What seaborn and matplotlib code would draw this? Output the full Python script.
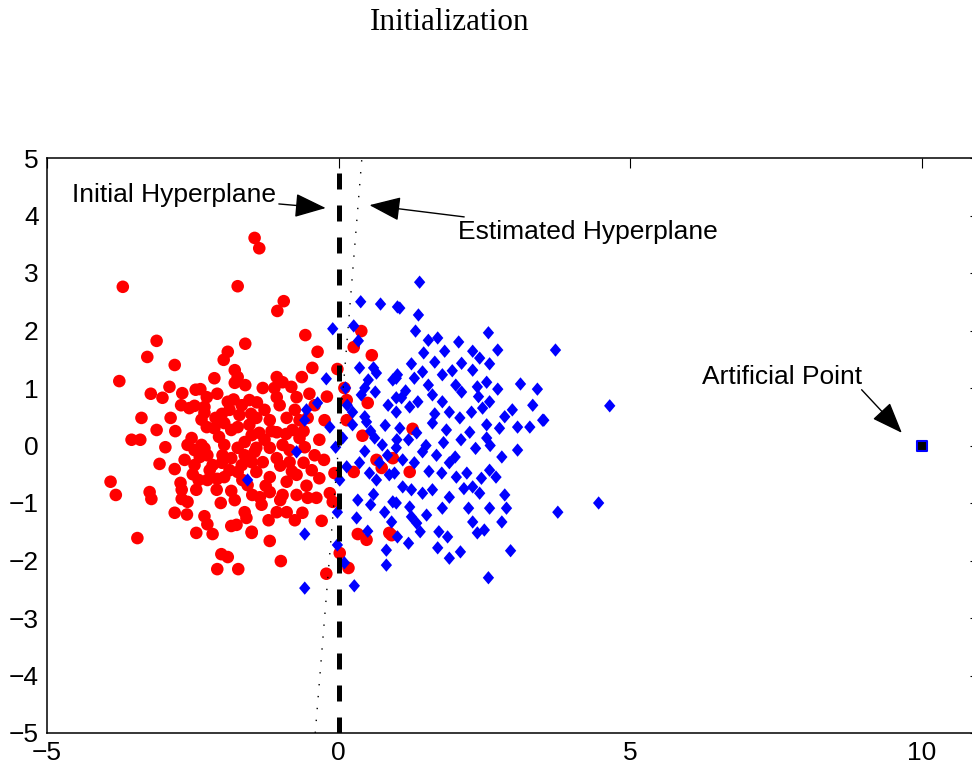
import numpy as np
import pandas as pd
import matplotlib
matplotlib.use("Agg")
import matplotlib.pyplot as plt
import seaborn as sns

# ---------------- data ----------------
red_x = [-3.70, -1.44, -1.36, -1.73, -0.94, -1.05, -3.12, -3.28, -2.81, -3.76,
         -0.57, 0.39, 0.57, 0.26, -1.60, -1.90, -1.97, -1.78, -1.73, -1.78,
         -2.13, -0.36, -0.45, -0.63, -0.02, -1.06, -0.96, -0.81, -1.10, -1.06,
         -0.72, 0.10, 0.14, 0.50, -3.22, -2.90, -3.02, -2.68, -2.45, -2.37,
         -2.26, -2.08, -1.90, -1.66, -1.53, -2.56, -2.47, -2.30, -2.30, -3.38,
         -2.88, -2.11, -3.12, -3.55, -3.40, -2.97, -3.07, -2.81, -3.91, -3.82,
         -3.24, -3.21, -2.71, -2.69, -2.69, -2.81, -2.44, -2.40, -2.25, -2.08,
         -1.96, -2.09, -1.84, -2.02, -2.30, -2.25, -2.44, -2.16, -1.84, -1.75,
         -1.61, -1.58, -1.49, -3.45, -2.01, -1.90, -2.08, -1.72, -2.52, -2.59,
         -2.47, -2.35, -2.26, -2.13, -1.96, -1.84, -1.73, -1.96, -1.99, -1.84,
         -1.73, -1.61, -1.49, -1.44, -1.66, -1.73, -2.16, -2.38, -2.25, -1.49,
         -1.41, -1.18, -0.89, -0.67, -0.53, -1.36, -1.06, -0.79, -0.67, -0.58,
         -1.41, -1.18, -0.96, -1.30, -1.06, -0.84, -1.41, -1.18, -0.89, -0.46,
         -0.33, -0.72, -0.07, -1.48, -1.18, -0.96, -0.72, -0.53, -0.38, -0.15,
         -0.10, -1.06, -0.89, -0.62, -0.29, -1.49, -1.18, -0.99, -0.21, 0.02,
         0.17, 0.33, 0.48, 0.87, 0.74, 0.26, 0.41, 0.65, 0.93, 0.14,
         1.22, 0.91, 1.27, -1.27, -1.01, -0.75, -0.41, -0.24, -1.70, -1.87,
         -1.53, -1.27, -1.61, -1.87, -0.84, -0.41, -0.33, -2.21, -2.47, -2.64,
         -1.56, -1.32, -1.78, -2.59,
         -2.00, -1.80, -1.40, -1.15, -0.90, -0.60, -1.00, -0.60, -1.25, -0.80,
         -2.30, -2.05, -1.65, -1.35, -2.50, -2.80, -2.70, -1.60, -1.30, -0.50,
         -0.20, -0.25, -0.55, -1.00, -2.00, -1.50, -2.35, -1.20, -0.75, -2.60]
red_y = [2.76, 3.61, 3.43, 2.77, 2.51, 2.34, 1.82, 1.54, 1.40, 1.12,
         1.92, 1.99, 1.57, 1.71, 1.77, 1.63, 1.49, 1.31, 1.19, 1.09,
         1.17, 1.63, 1.35, 1.19, 1.33, 1.19, 1.10, 1.02, 1.00, 0.84,
         0.84, 1.00, 0.79, 0.74, 0.90, 1.02, 0.83, 0.91, 0.97, 0.98,
         0.84, 0.90, 0.76, 0.70, 0.79, 0.65, 0.69, 0.67, 0.57, 0.48,
         0.48, 0.48, 0.27, 0.10, 0.10, -0.03, -0.32, -0.41, -0.63, -0.86,
         -0.81, -0.93, -0.65, -0.77, -0.93, -1.17, -0.77, -0.60, -0.60, -0.58,
         -0.55, -0.77, -0.79, -1.00, -1.23, -1.37, -1.52, -1.54, -1.40, -1.38,
         -1.16, -1.26, -1.50, -1.61, -1.89, -1.94, -2.15, -2.15, 0.13, 0.01,
         -0.08, 0.01, 0.32, 0.30, 0.39, 0.27, 0.32, 0.01, -0.17, -0.22,
         -0.04, 0.06, 0.18, -0.11, -0.34, -0.46, -0.34, -0.20, -0.17, -0.29,
         0.48, 0.44, 0.48, 0.44, 0.48, 0.22, 0.23, 0.27, 0.13, -0.03,
         -0.04, -0.04, 0.01, -0.29, -0.22, -0.29, -0.46, -0.55, -0.63, -0.43,
         -0.57, -0.51, -0.48, -0.86, -0.81, -0.86, -0.86, -0.91, -0.91, -0.83,
         -0.98, -1.16, -1.16, -1.17, -1.31, -1.52, -1.66, -2.01, -2.23, -1.87,
         -2.13, -1.54, -1.64, -1.52, -0.39, -0.46, 0.17, -0.25, -0.22, 0.44,
         -0.46, -1.56, 0.29, 0.62, 0.70, 0.62, 0.70, 0.44, 0.53, 0.62,
         0.36, 0.10, -0.17, -0.43, -0.08, -0.17, 0.10, -0.43, -0.34, -0.25,
         -0.69, -1.03, -0.95, -0.98,
         0.55, 0.80, 0.75, 0.25, 0.20, 0.25, -0.35, -0.30, -0.70, -0.45,
         -0.05, 0.15, -0.60, -0.90, -0.50, 0.25, 0.70, 1.05, 1.00, 0.90,
         0.85, -0.25, -0.70, -0.95, -0.30, 0.55, 0.45, -1.30, -1.30, -1.20]

blue_x = [0.38, 0.72, 1.01, -0.10, 0.26, 0.34, -0.21, 0.36, 0.60, 0.65,
          0.51, 0.45, 0.63, 0.93, 1.01, 0.12, 0.15, 0.24, 0.45, 0.39,
          -0.36, -0.55, 0.99, -0.58, -0.15, 0.07, -0.05, 0.24, 0.48, 0.62,
          0.75, 0.99, 0.84, 0.36, 0.14, 0.02, 0.53, 0.65, 0.87, 0.33,
          0.55, -0.02, 0.31, 0.79, 0.93, 0.91, 0.50, 0.82, 0.82, -0.02,
          0.10, -0.58, 0.27, -0.58, -0.72, -1.56, 1.39, 1.05, 1.37, 1.32,
          1.54, 1.70, 2.06, 2.57, 2.73, 3.72, 1.46, 1.82, 2.30, 2.42,
          2.11, 2.59, 1.65, 1.25, 1.44, 1.30, 1.78, 2.30, 0.99, 1.54,
          2.01, 2.38, 2.54, 2.73, 3.12, 3.41, 1.61, 2.11, 1.08, 1.78,
          2.59, 3.33, 1.36, 0.99, 1.22, 1.90, 2.28, 2.47, 2.98, 2.85,
          3.50, 3.07, 3.28, 1.61, 2.08, 2.54, 2.76, 1.05, 1.34, 1.85,
          2.25, 2.54, 3.07, 2.80, 2.59, 2.45, 2.85, 2.88, 2.80, 2.59,
          2.50, 2.38, 2.30, 2.23, 1.78, 1.51, 1.25, 1.34, 1.72, 1.87,
          1.70, 1.90, 2.09, 2.95, 2.57, 3.76, 1.01, 1.44, 1.68, 1.90,
          1.77, 2.02, 2.20, 2.30, 2.42, 1.61, 1.44, 1.25, 1.10, 0.96,
          0.99, 1.22, 4.65, 3.52, 4.46, 1.20, 1.50, 1.80, 2.10, 2.35,
          1.30, 1.55, 2.00, 2.15, 1.90, 1.00, 0.80, 0.70, 1.10, 2.60,
          1.65, 2.40, 1.95, 1.15, 0.85, 2.70, 1.40, 1.20, 0.60, 0.45,
          0.55]
blue_y = [2.50, 2.46, 2.41, 2.03, 2.08, 1.82, 1.16, 1.35, 1.35, 1.26,
          1.14, 1.00, 0.93, 1.14, 1.23, 1.00, 0.70, 0.58, 0.50, 0.88,
          0.74, 0.62, 0.83, 0.44, 0.32, 0.13, -0.03, 0.36, 0.41, 0.13,
          0.01, -0.04, -0.17, -0.30, -0.37, -0.60, -0.48, -0.60, -0.51, -0.95,
          -1.03, -1.16, -1.26, -1.16, -0.98, -1.33, -1.49, -1.82, -2.08, -1.73,
          -2.04, -1.54, -2.44, -2.48, -0.11, -0.60, 2.84, 2.39, 2.27, 1.99,
          1.83, 1.87, 1.80, 1.96, 1.66, 1.66, 1.61, 1.64, 1.64, 1.52,
          1.43, 1.42, 1.45, 1.42, 1.28, 1.17, 1.23, 1.31, 1.17, 1.05,
          1.05, 1.02, 1.10, 0.98, 1.07, 0.98, 0.88, 0.93, 0.83, 0.76,
          0.76, 0.70, 0.76, 0.58, 0.67, 0.58, 0.58, 0.65, 0.62, 0.50,
          0.44, 0.32, 0.32, 0.39, 0.48, 0.36, 0.30, 0.30, 0.22, 0.27,
          0.23, 0.13, -0.08, -0.20, -0.43, -0.57, -0.86, -1.09, -1.33, -1.09,
          -1.47, -1.52, -1.33, -1.09, -1.09, -1.21, -1.24, -1.35, -1.50, -1.59,
          -1.78, -1.96, -1.85, -1.83, -2.30, -1.16, -1.59, -0.11, -0.17, -0.30,
          -0.48, -0.55, -0.48, -0.72, -0.83, -0.77, -0.83, -0.77, -0.72, -0.48,
          -1.00, -1.07, 0.69, 0.44, -1.00, 0.10, 0.00, 0.05, 0.10, -0.05,
          -0.30, -0.45, -0.20, -0.75, -0.90, 0.10, 0.35, -0.30, -0.25, 0.00,
          0.55, 0.85, 1.30, 0.95, 0.70, -0.55, -1.50, -1.70, -0.85, -0.10,
          0.25]

artificial_x = [10.0]
artificial_y = [0.0]

initial_plane_x = [0.0, 0.0]
initial_plane_y = [-5.0, 5.0]
estimated_plane_x = [-0.40, 0.40]
estimated_plane_y = [-5.0, 5.0]

x_ticks = [-5, 0, 5, 10]
y_ticks = [-5, -4, -3, -2, -1, 0, 1, 2, 3, 4, 5]

title_text = "Initialization"
label_initial = "Initial Hyperplane"
label_estimated = "Estimated Hyperplane"
label_artificial = "Artificial Point"

# ---------------- styling ----------------
sns.set_style("white")
plt.rcParams["font.family"] = ["Liberation Sans", "DejaVu Sans"]
plt.rcParams["text.color"] = "black"
plt.rcParams["xtick.color"] = "black"
plt.rcParams["ytick.color"] = "black"
plt.rcParams["axes.labelcolor"] = "black"

W, H = 972, 767
fig = plt.figure(figsize=(W / 100, H / 100), dpi=100)
# axes extend past the right edge of the picture (cropped reference)
ax = fig.add_axes([47 / W, (H - 733) / H, (980 - 47) / W, (733 - 158) / H])

red_df = pd.DataFrame({"x": red_x, "y": red_y})
blue_df = pd.DataFrame({"x": blue_x, "y": blue_y})
art_df = pd.DataFrame({"x": artificial_x, "y": artificial_y})

diamond = [(0, 1), (0.85, 0), (0, -1), (-0.85, 0), (0, 1)]

sns.scatterplot(data=red_df, x="x", y="y", ax=ax, color="#ff0000", marker="o",
                s=82, linewidth=0, edgecolor="none", zorder=2, legend=False)
sns.scatterplot(data=blue_df, x="x", y="y", ax=ax, color="#0000ff", marker=diamond,
                s=92, linewidth=0, edgecolor="none", zorder=3, legend=False)
sns.scatterplot(data=art_df, x="x", y="y", ax=ax, color="black", marker="s",
                s=62, linewidth=1.5, edgecolor="#0000ff", zorder=6, legend=False)

sns.lineplot(x=initial_plane_x, y=initial_plane_y, ax=ax, color="black",
             linewidth=3.6, dashes=False, zorder=5, sort=False, estimator=None)
ax.lines[-1].set_dashes((3.2, 3.2))
sns.lineplot(x=estimated_plane_x, y=estimated_plane_y, ax=ax, color="black",
             linewidth=1.0, zorder=5, sort=False, estimator=None)
ax.lines[-1].set_dashes((1.0, 7.6))

ax.set_xlim(-5, 11)
ax.set_ylim(-5, 5)
ax.set_xticks(x_ticks)
ax.set_yticks(y_ticks)
ax.set_xlabel("")
ax.set_ylabel("")
ax.tick_params(direction="in", length=7, width=0.8, top=True, right=True,
               labelsize=19, pad=6, colors="black", labelcolor="black")
for sp in ax.spines.values():
    sp.set_visible(True)
    sp.set_color("black")
    sp.set_linewidth(1.1)

arrow_kw = dict(arrowstyle="-|>,head_length=1.3,head_width=0.5", color="black",
                lw=1.0, mutation_scale=15, shrinkA=0, shrinkB=0)
ax.annotate(label_initial, xy=(-0.22, 4.13), xytext=(-1.08, 4.36),
            ha="right", va="center", fontsize=19, color="black",
            arrowprops=arrow_kw, zorder=7)
ax.annotate(label_estimated, xy=(0.53, 4.18), xytext=(2.04, 3.71),
            ha="left", va="center", fontsize=19, color="black",
            arrowprops=arrow_kw, zorder=7)
ax.annotate("", xy=(9.66, 0.22), xytext=(8.97, 0.97), arrowprops=arrow_kw, zorder=7)
ax.text(6.23, 1.19, label_artificial, ha="left", va="center", fontsize=19,
        color="black", zorder=7)

fig.text(450 / W, 1 - 23 / H, title_text, ha="center", va="center", color="black",
         fontsize=22.5, family=["Liberation Serif", "DejaVu Serif"])

fig.savefig("out.png", dpi=100)
